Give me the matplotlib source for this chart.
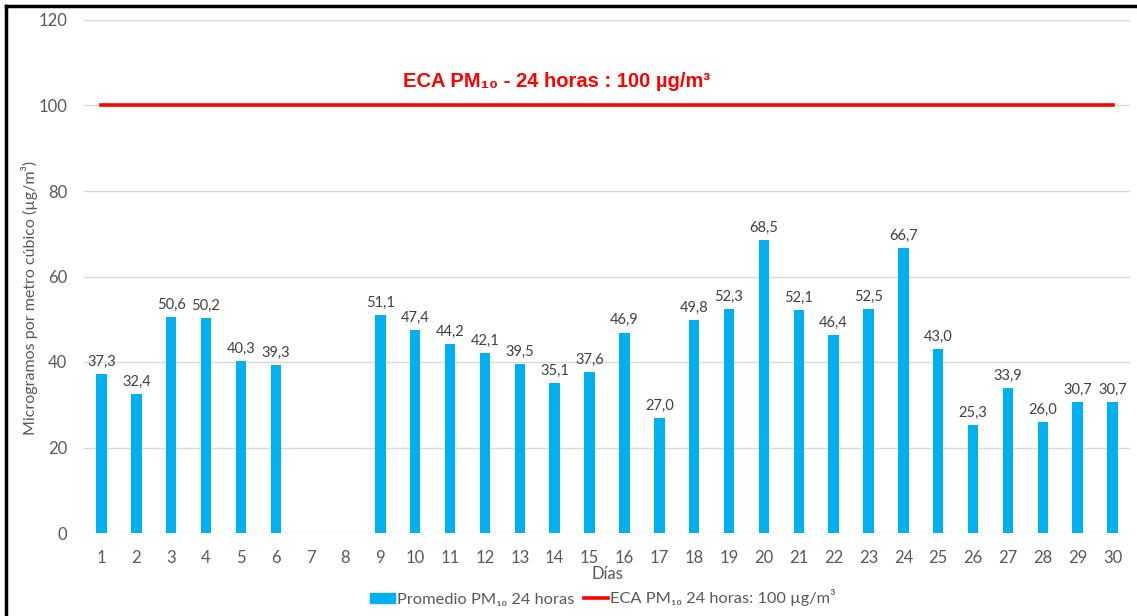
import numpy as np
import matplotlib
matplotlib.use('Agg')
import matplotlib.pyplot as plt
from matplotlib.lines import Line2D
from matplotlib.patches import Patch

days = list(range(1, 31))
pm10 = [37.3, 32.4, 50.6, 50.2, 40.3, 39.3, np.nan, np.nan, 51.1, 47.4,
        44.2, 42.1, 39.5, 35.1, 37.6, 46.9, 27.0, 49.8, 52.3, 68.5,
        52.1, 46.4, 52.5, 66.7, 43.0, 25.3, 33.9, 26.0, 30.7, 30.7]
eca_limit = 100
y_ticks = [0, 20, 40, 60, 80, 100, 120]

plt.rcParams['font.family'] = ['Lato', 'DejaVu Sans']
text_gray = '#595959'
bar_blue = '#00b0f0'

fig = plt.figure(figsize=(11.37, 6.16), dpi=100)
ax = fig.add_axes([84 / 1137, 1 - 533 / 616, 1046 / 1137, 513 / 616])

x = np.arange(len(days))
ax.bar(x, pm10, width=0.3, color=bar_blue, zorder=3)
ax.plot([x[0], x[-1]], [eca_limit, eca_limit], color='#ff0000',
        linewidth=2.6, zorder=4)

for xi, v in zip(x, pm10):
    if np.isnan(v):
        continue
    ax.text(xi, v + 1.2, '{:.1f}'.format(v).replace('.', ','),
            ha='center', va='bottom', fontsize=10.5, color='#404040')

ax.text(0.452, 105.5, 'ECA PM\u2081\u2080 - 24 horas : 100 \u00b5g/m\u00b3',
        transform=ax.get_yaxis_transform(), ha='center', va='center',
        fontsize=14.5, fontweight='bold', color='#ff0000',
        family=['Liberation Sans', 'DejaVu Sans'])

ax.set_xlim(-0.5, len(days) - 0.5)
ax.set_ylim(0, 120)
ax.set_xticks(x)
ax.set_xticklabels([str(d) for d in days])
ax.set_yticks(y_ticks)
ax.tick_params(axis='both', length=0, labelsize=12, colors=text_gray)
ax.tick_params(axis='x', pad=12)
ax.tick_params(axis='y', pad=12)
ax.grid(axis='y', color='#d9d9d9', linewidth=1, zorder=0)
for s in ax.spines.values():
    s.set_visible(False)

ax.set_xlabel('D\u00edas', fontsize=12, color=text_gray, labelpad=0)
fig.text(30 / 1137, 1 - 298 / 616,
         'Microgramos por metro c\u00fabico (\u00b5g/m\u00b3)',
         rotation=90, ha='center', va='center', fontsize=11.5,
         color=text_gray)

handles = [Patch(color=bar_blue),
           Line2D([], [], color='#ff0000', linewidth=2.6)]
labels = ['Promedio PM\u2081\u2080 24 horas',
          'ECA PM\u2081\u2080 24 horas: 100 \u00b5g/m\u00b3']
fig.legend(handles, labels, loc='center', ncol=2,
           bbox_to_anchor=(603 / 1137, 1 - 598 / 616), frameon=False,
           fontsize=11.8, labelcolor=text_gray, handlelength=1.5,
           handletextpad=0.12, columnspacing=0.6, handleheight=0.6)

# frame around the chart, top and left edges visible
fig.add_artist(Line2D([6 / 1137, 1], [1 - 6 / 616, 1 - 6 / 616],
                      transform=fig.transFigure, color='black', linewidth=2.5))
fig.add_artist(Line2D([6 / 1137, 6 / 1137], [0, 1 - 6 / 616],
                      transform=fig.transFigure, color='black', linewidth=2.5))

fig.savefig('out.png', dpi=100, facecolor='white')
